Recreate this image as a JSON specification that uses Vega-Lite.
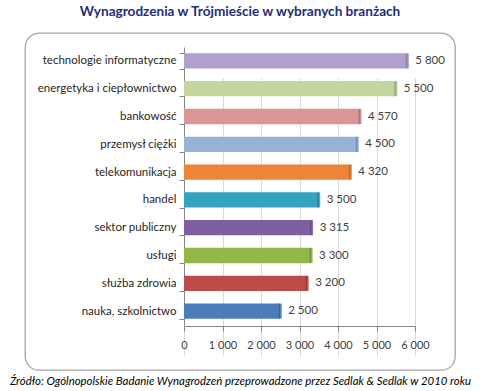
{
  "$schema": "https://vega.github.io/schema/vega-lite/v6.json",
  "autosize": "none",
  "width": 430,
  "height": 337,
  "padding": {"left": 25, "top": 33, "right": 24, "bottom": 21},
  "title": {"text": "Wynagrodzenia w Trójmieście w wybranych branżach", "font": "Lato", "fontSize": 13.6, "fontWeight": "bold", "color": "#1F2C7C", "anchor": "middle", "offset": 8},
  "data": {"values": [
    {"branza": "technologie informatyczne", "wynagrodzenie": 5800},
    {"branza": "energetyka i ciepłownictwo", "wynagrodzenie": 5500},
    {"branza": "bankowość", "wynagrodzenie": 4570},
    {"branza": "przemysł ciężki", "wynagrodzenie": 4500},
    {"branza": "telekomunikacja", "wynagrodzenie": 4320},
    {"branza": "handel", "wynagrodzenie": 3500},
    {"branza": "sektor publiczny", "wynagrodzenie": 3315},
    {"branza": "usługi", "wynagrodzenie": 3300},
    {"branza": "służba zdrowia", "wynagrodzenie": 3200},
    {"branza": "nauka, szkolnictwo", "wynagrodzenie": 2500}
  ]},
  "encoding": {
    "y": {
      "field": "branza", "type": "nominal",
      "sort": ["technologie informatyczne", "energetyka i ciepłownictwo", "bankowość", "przemysł ciężki", "telekomunikacja", "handel", "sektor publiczny", "usługi", "służba zdrowia", "nauka, szkolnictwo"],
      "scale": {"range": [14, 292], "paddingInner": 0.45, "paddingOuter": 0.225},
      "axis": {"title": null, "offset": -159, "tickBand": "extent", "tickSize": 5, "tickColor": "#868686", "domainColor": "#868686", "labelPadding": 3, "labelFont": "Lato", "labelFontSize": 11.5, "labelColor": "#262626", "grid": false}
    },
    "x": {
      "field": "wynagrodzenie", "type": "quantitative",
      "scale": {"domain": [0, 6000], "range": [159, 390], "nice": false},
      "axis": {
        "values": [0, 1000, 2000, 3000, 4000, 5000, 6000], "format": ",d", "labelOverlap": false, "labelFlush": false,
        "offset": -44, "grid": true, "gridColor": "#D9D9D9", "domainColor": "#868686", "tickColor": "#868686", "tickSize": 5,
        "labelPadding": 8, "labelFont": "Lato", "labelFontSize": 11, "labelColor": "#404040",
        "title": "Źródło: Ogólnopolskie Badanie Wynagrodzeń przeprowadzone przez Sedlak & Sedlak w 2010 roku",
        "titleX": 215, "titleY": 55, "titleBaseline": "middle", "titleAlign": "center", "titleAnchor": null,
        "titleFont": "Lato", "titleFontStyle": "italic", "titleFontWeight": "normal", "titleFontSize": 11.4, "titleColor": "#000000"
      }
    }
  },
  "layer": [
    {
      "mark": {"type": "bar"},
      "encoding": {
        "color": {"field": "branza", "type": "nominal", "legend": null,
          "scale": {"domain": ["technologie informatyczne", "energetyka i ciepłownictwo", "bankowość", "przemysł ciężki", "telekomunikacja", "handel", "sektor publiczny", "usługi", "służba zdrowia", "nauka, szkolnictwo"],
                    "range": ["#B1A0CF", "#C3D69B", "#D99694", "#95B3D7", "#EC8535", "#33A3C0", "#7E5FA1", "#93B54A", "#BF4B48", "#4A7EBB"]}}
      }
    },
    {
      "mark": {"type": "tick", "thickness": 3, "size": 15, "orient": "vertical"},
      "encoding": {
        "color": {"field": "branza", "type": "nominal", "legend": null,
          "scale": {"domain": ["technologie informatyczne", "energetyka i ciepłownictwo", "bankowość", "przemysł ciężki", "telekomunikacja", "handel", "sektor publiczny", "usługi", "służba zdrowia", "nauka, szkolnictwo"],
                    "range": ["#7F6F9E", "#8FA06A", "#A36664", "#6783A6", "#B25E1E", "#1F7890", "#5A4079", "#6B8A2E", "#8E302E", "#2F5A8C"]}}
      }
    },
    {
      "mark": {"type": "text", "align": "left", "baseline": "middle", "dx": 8, "font": "Lato", "fontSize": 11.5, "color": "#404040"},
      "encoding": {
        "text": {"field": "wynagrodzenie", "type": "quantitative", "format": ",d"}
      }
    }
  ],
  "resolve": {"scale": {"color": "independent"}},
  "config": {
    "locale": {"number": {"decimal": ",", "thousands": " ", "grouping": [3], "currency": ["", " zł"]}},
    "view": {"stroke": "#A6A6A6", "strokeWidth": 1.3, "cornerRadius": 14, "fill": "#FFFFFF"},
    "background": "#FFFFFF"
  }
}
